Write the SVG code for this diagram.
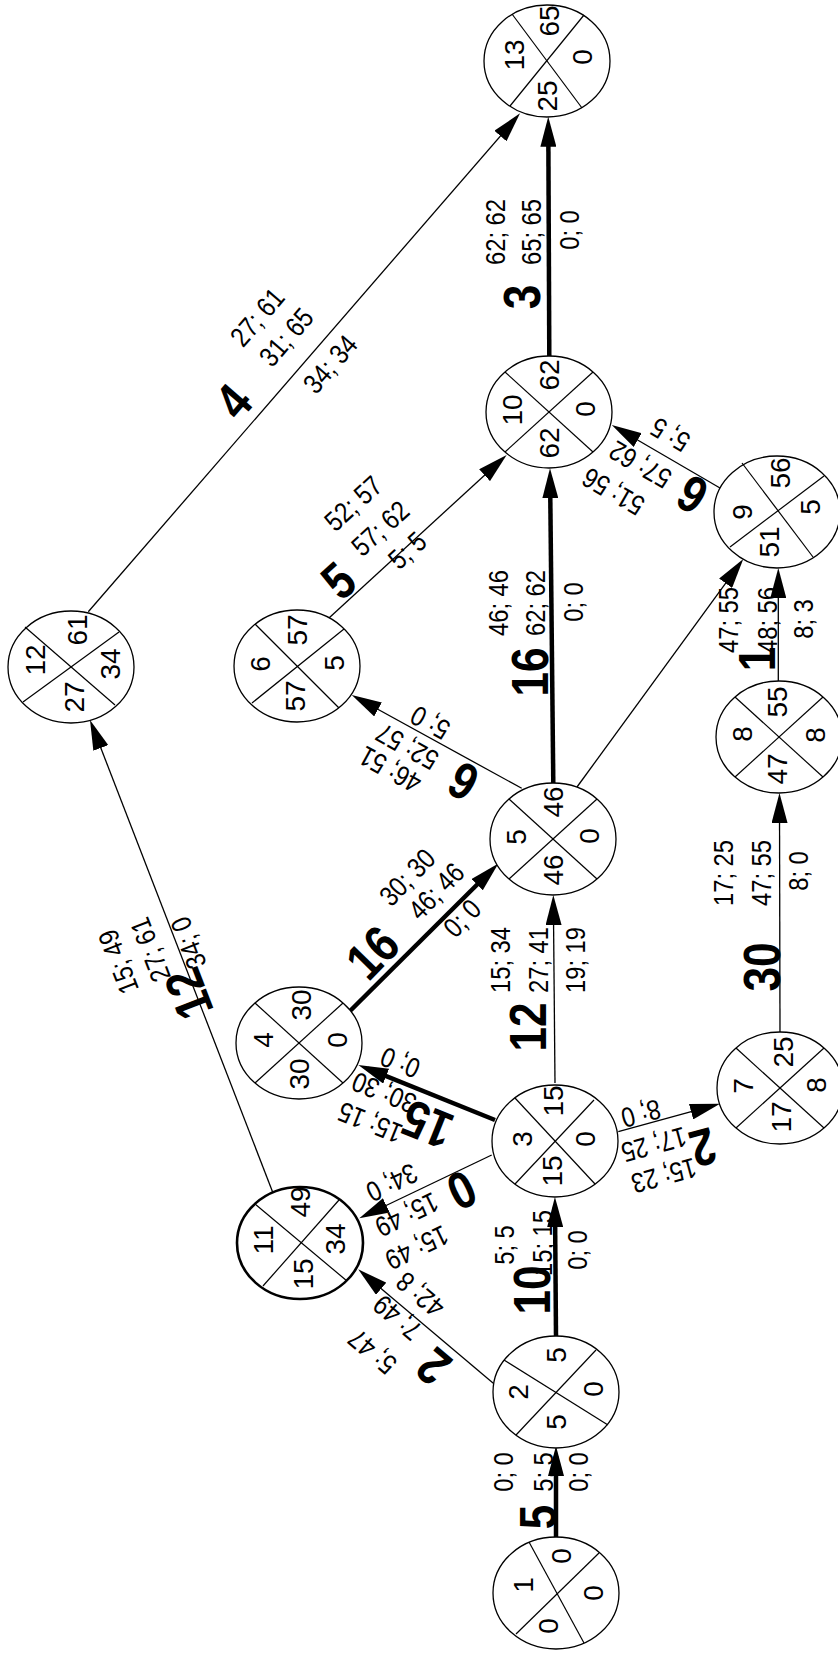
<svg xmlns="http://www.w3.org/2000/svg" width="838" height="1654" viewBox="0 0 838 1654">
<style>
.n ellipse{fill:#fff;stroke:#000;stroke-width:1.3}
.n line{stroke:#000;stroke-width:1.2}
.n text{font-family:"Liberation Sans",Arial,sans-serif;font-size:28px;text-anchor:middle;fill:#000}
.e line{stroke:#000;stroke-width:1.3;fill:none;marker-end:url(#ah)}
.e line.c{stroke-width:4.5}
.e text{font-family:"Liberation Sans",Arial,sans-serif;font-size:28px;text-anchor:middle;fill:#000}
.e text.b{font-weight:bold;font-size:52px}
</style>
<defs>
<marker id="ah" markerUnits="userSpaceOnUse" markerWidth="30" markerHeight="16" refX="20" refY="8" orient="auto" viewBox="0 0 30 16"><path d="M0,0 L30,8 L0,16 Z" fill="#000"/></marker>
</defs>
<rect width="838" height="1654" fill="#fff"/>
<g id="connectors">
<g class="e" id="e1-2">
<line class="c" x1="556" y1="1538" x2="556" y2="1456"/>
<text class="b" transform="translate(537.5 1517) rotate(-90) scale(.85 1)" dy=".36em">5</text>
<text transform="translate(502.5 1472) rotate(-90) scale(.85 1)" dy=".36em">0; 0</text>
<text transform="translate(542.5 1472) rotate(-90) scale(.85 1)" dy=".36em">5; 5</text>
<text transform="translate(577.5 1472) rotate(-90) scale(.85 1)" dy=".36em">0; 0</text>
</g>
<g class="e" id="e2-3">
<line class="c" x1="556" y1="1336" x2="555" y2="1207"/>
<text class="b" transform="translate(531 1290) rotate(-90) scale(.85 1)" dy=".36em">10</text>
<text transform="translate(504 1245) rotate(-90) scale(.85 1)" dy=".36em">5; 5</text>
<text transform="translate(542 1243) rotate(-90) scale(.85 1)" dy=".36em">15; 15</text>
<text transform="translate(577 1250) rotate(-90) scale(.85 1)" dy=".36em">0; 0</text>
</g>
<g class="e" id="e2-11">
<line x1="493.3" y1="1383.3" x2="365.9" y2="1275.8"/>
<text class="b" transform="translate(433 1367) rotate(-139.8) scale(.85 1)" dy=".36em">2</text>
<text transform="translate(372 1352) rotate(-139.8) scale(.85 1)" dy=".36em">5; 47</text>
<text transform="translate(397 1318) rotate(-139.8) scale(.85 1)" dy=".36em">7; 49</text>
<text transform="translate(420 1295) rotate(-139.8) scale(.85 1)" dy=".36em">42; 8</text>
</g>
<g class="e" id="e3-11">
<line x1="491.7" y1="1155" x2="368.3" y2="1214"/>
<text class="b" transform="translate(462 1191) rotate(154.4) scale(.85 1)" dy=".36em">0</text>
<text transform="translate(417 1248) rotate(154.4) scale(.85 1)" dy=".36em">15; 49</text>
<text transform="translate(407 1215) rotate(154.4) scale(.85 1)" dy=".36em">15; 49</text>
<text transform="translate(392 1183) rotate(154.4) scale(.85 1)" dy=".36em">34; 0</text>
</g>
<g class="e" id="e3-4">
<line class="c" x1="495" y1="1120" x2="367.6" y2="1068.7"/>
<text class="b" transform="translate(427 1125) rotate(-158.1) scale(.85 1)" dy=".36em">15</text>
<text transform="translate(370 1123) rotate(-158.1) scale(.85 1)" dy=".36em">15; 15</text>
<text transform="translate(384 1093) rotate(-158.1) scale(.85 1)" dy=".36em">30; 30</text>
<text transform="translate(400 1063) rotate(-158.1) scale(.85 1)" dy=".36em">0; 0</text>
</g>
<g class="e" id="e3-5">
<line x1="555" y1="1083" x2="553.4" y2="905"/>
<text class="b" transform="translate(527.5 1027) rotate(-90) scale(.85 1)" dy=".36em">12</text>
<text transform="translate(500 960) rotate(-90) scale(.85 1)" dy=".36em">15; 34</text>
<text transform="translate(537.5 960) rotate(-90) scale(.85 1)" dy=".36em">27; 41</text>
<text transform="translate(575 960) rotate(-90) scale(.85 1)" dy=".36em">19; 19</text>
</g>
<g class="e" id="e3-7">
<line x1="618.3" y1="1131.7" x2="710.4" y2="1106.4"/>
<text class="b" transform="translate(703 1148) rotate(164.6) scale(.85 1)" dy=".36em">2</text>
<text transform="translate(664 1176) rotate(164.6) scale(.85 1)" dy=".36em">15; 23</text>
<text transform="translate(654 1145) rotate(164.6) scale(.85 1)" dy=".36em">17; 25</text>
<text transform="translate(641 1114) rotate(164.6) scale(.85 1)" dy=".36em">8; 0</text>
</g>
<g class="e" id="e4-5">
<line class="c" x1="350" y1="1011" x2="491.3" y2="870.5"/>
<text class="b" transform="translate(372 952) rotate(-45.7) scale(.85 1)" dy=".36em">16</text>
<text transform="translate(407 877) rotate(-45.7) scale(.85 1)" dy=".36em">30; 30</text>
<text transform="translate(436 891) rotate(-45.7) scale(.85 1)" dy=".36em">46; 46</text>
<text transform="translate(462 918) rotate(-45.7) scale(.85 1)" dy=".36em">0; 0</text>
</g>
<g class="e" id="e5-6">
<line x1="521.7" y1="788.3" x2="360.5" y2="699.8"/>
<text class="b" transform="translate(463 782) rotate(-151.2) scale(.85 1)" dy=".36em">6</text>
<text transform="translate(390 770) rotate(-151.2) scale(.85 1)" dy=".36em">46; 51</text>
<text transform="translate(407 747) rotate(-151.2) scale(.85 1)" dy=".36em">52; 57</text>
<text transform="translate(430 723) rotate(-151.2) scale(.85 1)" dy=".36em">5; 0</text>
</g>
<g class="e" id="e5-10">
<line class="c" x1="553.3" y1="783.3" x2="550.1" y2="478.3"/>
<text class="b" transform="translate(529 672) rotate(-90) scale(.85 1)" dy=".36em">16</text>
<text transform="translate(497.5 603) rotate(-90) scale(.85 1)" dy=".36em">46; 46</text>
<text transform="translate(535 603) rotate(-90) scale(.85 1)" dy=".36em">62; 62</text>
<text transform="translate(572.5 602) rotate(-90) scale(.85 1)" dy=".36em">0; 0</text>
</g>
<g class="e" id="e5-9">
<line x1="577" y1="787" x2="737.4" y2="567.1"/>
</g>
<g class="e" id="e6-10">
<line x1="329" y1="618" x2="499.3" y2="461.7"/>
<text class="b" transform="translate(338 580) rotate(-42.2) scale(.85 1)" dy=".36em">5</text>
<text transform="translate(353 503) rotate(-42.2) scale(.85 1)" dy=".36em">52; 57</text>
<text transform="translate(380 528) rotate(-42.2) scale(.85 1)" dy=".36em">57; 62</text>
<text transform="translate(407 550) rotate(-42.2) scale(.85 1)" dy=".36em">5; 5</text>
</g>
<g class="e" id="e7-8">
<line x1="780" y1="1033" x2="779.5" y2="803"/>
<text class="b" transform="translate(761 967) rotate(-90) scale(.85 1)" dy=".36em">30</text>
<text transform="translate(722.5 873) rotate(-90) scale(.85 1)" dy=".36em">17; 25</text>
<text transform="translate(760.5 873) rotate(-90) scale(.85 1)" dy=".36em">47; 55</text>
<text transform="translate(797.5 871) rotate(-90) scale(.85 1)" dy=".36em">8; 0</text>
</g>
<g class="e" id="e8-9">
<line x1="778.3" y1="681" x2="778.3" y2="578"/>
<text class="b" transform="translate(756.5 659) rotate(-90) scale(.85 1)" dy=".36em">1</text>
<text transform="translate(727.5 620) rotate(-90) scale(.85 1)" dy=".36em">47; 55</text>
<text transform="translate(766.7 620) rotate(-90) scale(.85 1)" dy=".36em">48; 56</text>
<text transform="translate(802.5 619) rotate(-90) scale(.85 1)" dy=".36em">8; 3</text>
</g>
<g class="e" id="e9-10">
<line x1="720" y1="488" x2="620.4" y2="430"/>
<text class="b" transform="translate(692 495) rotate(-149.9) scale(.85 1)" dy=".36em">6</text>
<text transform="translate(613 492) rotate(-149.9) scale(.85 1)" dy=".36em">51; 56</text>
<text transform="translate(640 465) rotate(-149.9) scale(.85 1)" dy=".36em">57; 62</text>
<text transform="translate(670 435) rotate(-149.9) scale(.85 1)" dy=".36em">5; 5</text>
</g>
<g class="e" id="e10-13">
<line class="c" x1="549.3" y1="356" x2="548.3" y2="126.7"/>
<text class="b" transform="translate(521 297) rotate(-90) scale(.85 1)" dy=".36em">3</text>
<text transform="translate(495 232) rotate(-90) scale(.85 1)" dy=".36em">62; 62</text>
<text transform="translate(531 232) rotate(-90) scale(.85 1)" dy=".36em">65; 65</text>
<text transform="translate(569 230) rotate(-90) scale(.85 1)" dy=".36em">0; 0</text>
</g>
<g class="e" id="e11-12">
<line x1="273" y1="1193" x2="93.6" y2="729.3"/>
<text class="b" transform="translate(188 994) rotate(-111.1) scale(.85 1)" dy=".36em">12</text>
<text transform="translate(118 962) rotate(-111.1) scale(.85 1)" dy=".36em">15; 49</text>
<text transform="translate(150 950) rotate(-111.1) scale(.85 1)" dy=".36em">27; 61</text>
<text transform="translate(188 943) rotate(-111.1) scale(.85 1)" dy=".36em">34; 0</text>
</g>
<g class="e" id="e12-13">
<line x1="88.3" y1="611.7" x2="513.5" y2="120.9"/>
<text class="b" transform="translate(233 401) rotate(-49.1) scale(.85 1)" dy=".36em">4</text>
<text transform="translate(257 317) rotate(-49.1) scale(.85 1)" dy=".36em">27; 61</text>
<text transform="translate(286 337) rotate(-49.1) scale(.85 1)" dy=".36em">31; 65</text>
<text transform="translate(330 364) rotate(-49.1) scale(.85 1)" dy=".36em">34; 34</text>
</g>
</g>
<g class="n" id="node1">
<ellipse cx="556" cy="1593" rx="63" ry="56"/>
<line x1="529" y1="1542" x2="584" y2="1643"/><line x1="599" y1="1553" x2="516" y2="1634"/>
<text transform="translate(523 1585) rotate(-90)" dy=".36em">1</text>
<text transform="translate(561 1556) rotate(-90)" dy=".36em">0</text>
<text transform="translate(593 1593) rotate(-90)" dy=".36em">0</text>
<text transform="translate(548 1626) rotate(-90)" dy=".36em">0</text>
</g>
<g class="n" id="node2">
<ellipse cx="556" cy="1392" rx="63" ry="56"/>
<line x1="504" y1="1360" x2="608" y2="1425"/><line x1="596" y1="1350" x2="516" y2="1435"/>
<text transform="translate(518 1392) rotate(-90)" dy=".36em">2</text>
<text transform="translate(556 1355) rotate(-90)" dy=".36em">5</text>
<text transform="translate(593 1389) rotate(-90)" dy=".36em">0</text>
<text transform="translate(556 1422) rotate(-90)" dy=".36em">5</text>
</g>
<g class="n" id="node3">
<ellipse cx="555" cy="1141" rx="63" ry="56"/>
<line x1="515" y1="1098" x2="595" y2="1184"/><line x1="594" y1="1100" x2="515" y2="1184"/>
<text transform="translate(522 1139) rotate(-90)" dy=".36em">3</text>
<text transform="translate(553 1101) rotate(-90)" dy=".36em">15</text>
<text transform="translate(585 1139) rotate(-90)" dy=".36em">0</text>
<text transform="translate(552 1171) rotate(-90)" dy=".36em">15</text>
</g>
<g class="n" id="node4">
<ellipse cx="299" cy="1043" rx="63" ry="56"/>
<line x1="255" y1="1003" x2="343" y2="1083"/><line x1="343" y1="1003" x2="255" y2="1083"/>
<text transform="translate(263 1040) rotate(-90)" dy=".36em">4</text>
<text transform="translate(301 1005) rotate(-90)" dy=".36em">30</text>
<text transform="translate(337 1040) rotate(-90)" dy=".36em">0</text>
<text transform="translate(299 1074) rotate(-90)" dy=".36em">30</text>
</g>
<g class="n" id="node5">
<ellipse cx="553" cy="839" rx="63" ry="56"/>
<line x1="509" y1="799" x2="597" y2="879"/><line x1="597" y1="799" x2="509" y2="879"/>
<text transform="translate(516 837) rotate(-90)" dy=".36em">5</text>
<text transform="translate(553 802) rotate(-90)" dy=".36em">46</text>
<text transform="translate(589 836) rotate(-90)" dy=".36em">0</text>
<text transform="translate(553 870) rotate(-90)" dy=".36em">46</text>
</g>
<g class="n" id="node6">
<ellipse cx="297" cy="666" rx="63" ry="56"/>
<line x1="255" y1="624" x2="339" y2="708"/><line x1="344" y1="629" x2="252" y2="703"/>
<text transform="translate(260 664) rotate(-90)" dy=".36em">6</text>
<text transform="translate(297 630) rotate(-90)" dy=".36em">57</text>
<text transform="translate(334 663) rotate(-90)" dy=".36em">5</text>
<text transform="translate(295 696) rotate(-90)" dy=".36em">57</text>
</g>
<g class="n" id="node7">
<ellipse cx="780" cy="1088" rx="63" ry="56"/>
<line x1="736" y1="1048" x2="824" y2="1128"/><line x1="824" y1="1048" x2="736" y2="1128"/>
<text transform="translate(743 1086) rotate(-90)" dy=".36em">7</text>
<text transform="translate(783 1052) rotate(-90)" dy=".36em">25</text>
<text transform="translate(816 1085) rotate(-90)" dy=".36em">8</text>
<text transform="translate(781 1117) rotate(-90)" dy=".36em">17</text>
</g>
<g class="n" id="node8">
<ellipse cx="779" cy="737" rx="63" ry="56"/>
<line x1="735" y1="697" x2="823" y2="777"/><line x1="823" y1="697" x2="735" y2="777"/>
<text transform="translate(742 734) rotate(-90)" dy=".36em">8</text>
<text transform="translate(777 702) rotate(-90)" dy=".36em">55</text>
<text transform="translate(815 735) rotate(-90)" dy=".36em">8</text>
<text transform="translate(777 769) rotate(-90)" dy=".36em">47</text>
</g>
<g class="n" id="node9">
<ellipse cx="777" cy="512" rx="63" ry="56"/>
<line x1="742" y1="463" x2="813" y2="557"/><line x1="824" y1="476" x2="730" y2="547"/>
<text transform="translate(742 512) rotate(-90)" dy=".36em">9</text>
<text transform="translate(780 473) rotate(-90)" dy=".36em">56</text>
<text transform="translate(810 507) rotate(-90)" dy=".36em">5</text>
<text transform="translate(769 542) rotate(-90)" dy=".36em">51</text>
</g>
<g class="n" id="node10">
<ellipse cx="549" cy="412" rx="63" ry="56"/>
<line x1="505" y1="372" x2="593" y2="452"/><line x1="593" y1="372" x2="505" y2="452"/>
<text transform="translate(512 410) rotate(-90)" dy=".36em">10</text>
<text transform="translate(549 375) rotate(-90)" dy=".36em">62</text>
<text transform="translate(585 409) rotate(-90)" dy=".36em">0</text>
<text transform="translate(549 443) rotate(-90)" dy=".36em">62</text>
</g>
<g class="n" id="node11">
<ellipse cx="300" cy="1243" rx="63" ry="56" style="stroke-width:2.6"/>
<line x1="255" y1="1204" x2="347" y2="1281"/><line x1="339" y1="1200" x2="263" y2="1286"/>
<text transform="translate(263 1240) rotate(-90)" dy=".36em">11</text>
<text transform="translate(300 1202) rotate(-90)" dy=".36em">49</text>
<text transform="translate(335 1239) rotate(-90)" dy=".36em">34</text>
<text transform="translate(303 1274) rotate(-90)" dy=".36em">15</text>
</g>
<g class="n" id="node12">
<ellipse cx="71" cy="667" rx="63" ry="56"/>
<line x1="25" y1="627" x2="115" y2="705"/><line x1="119" y1="632" x2="23" y2="702"/>
<text transform="translate(35 660) rotate(-90)" dy=".36em">12</text>
<text transform="translate(77 630) rotate(-90)" dy=".36em">61</text>
<text transform="translate(110 664) rotate(-90)" dy=".36em">34</text>
<text transform="translate(74 697) rotate(-90)" dy=".36em">27</text>
</g>
<g class="n" id="node13">
<ellipse cx="547" cy="61" rx="63" ry="56"/>
<line x1="512" y1="14" x2="582" y2="108"/><line x1="584" y1="15" x2="510" y2="106"/>
<text transform="translate(514 55) rotate(-90)" dy=".36em">13</text>
<text transform="translate(549 21) rotate(-90)" dy=".36em">65</text>
<text transform="translate(582 57) rotate(-90)" dy=".36em">0</text>
<text transform="translate(547 96) rotate(-90)" dy=".36em">25</text>
</g>
</svg>
